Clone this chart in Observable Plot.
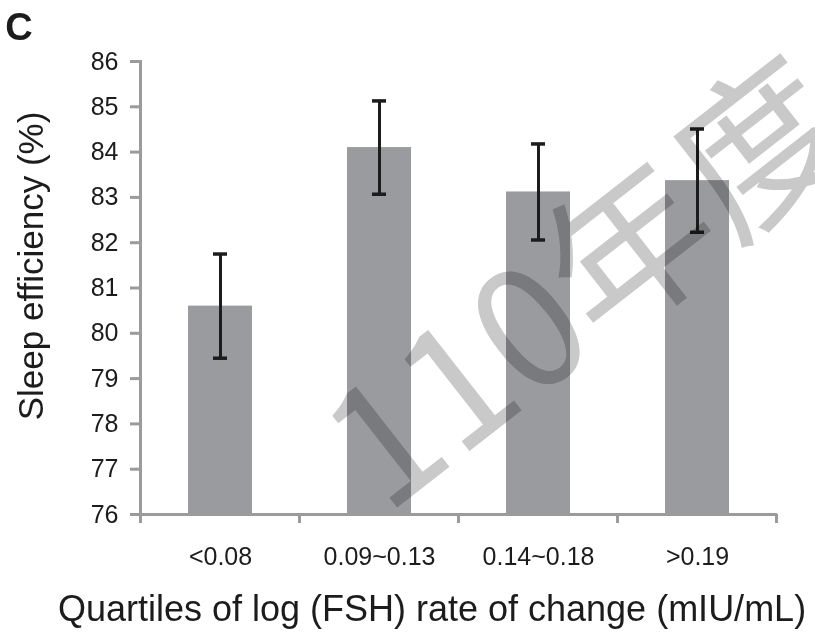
<!DOCTYPE html>
<html>
<head>
<meta charset="utf-8">
<script src="https://cdn.jsdelivr.net/npm/d3@7"></script>
<script src="https://cdn.jsdelivr.net/npm/@observablehq/plot@0.6"></script>
<style>
  html, body { margin: 0; padding: 0; background: #fff; }
  #chart { position: relative; width: 815px; height: 635px; overflow: hidden; }
</style>
</head>
<body>
<div id="chart"></div>
<script>
// ---- data ----
const categories = ["<0.08", "0.09~0.13", "0.14~0.18", ">0.19"];
const means = [80.6, 84.1, 83.12, 83.37];
const errors = [1.15, 1.03, 1.06, 1.14];
const yTicks = [76, 77, 78, 79, 80, 81, 82, 83, 84, 85, 86];
const panelLabel = "C";
const yLabel = "Sleep efficiency (%)";
const xLabel = "Quartiles of log (FSH) rate of change (mIU/mL)";
const watermark = "110年度";

const rows = categories.map((c, i) => ({cat: c, mean: means[i], lo: means[i] - errors[i], hi: means[i] + errors[i]}));

const FONT = "'Liberation Sans', Arial, Helvetica, sans-serif";
const AXIS = "#9b9b9b";
const TEXT = "#1c1c1c";
const BAR = "#9a9b9f";

const W = 815, H = 635, ML = 140, MR = 38, MT = 61, MB = 121;

const plot = Plot.plot({
  width: W,
  height: H,
  marginLeft: ML,
  marginRight: MR,
  marginTop: MT,
  marginBottom: MB,
  style: {fontFamily: FONT, background: "#fff", color: TEXT, overflow: "visible"},
  x: {domain: categories, paddingInner: 0.6, paddingOuter: 0.3, axis: null},
  y: {domain: [76, 86], axis: null},
  marks: [
    Plot.barY(rows, {x: "cat", y1: 76, y2: "mean", fill: BAR}),
    Plot.ruleX(rows, {x: "cat", y1: "lo", y2: "hi", stroke: TEXT, strokeWidth: 3}),
    Plot.tickY(rows, {x: "cat", y: "hi", stroke: TEXT, strokeWidth: 3.5, insetLeft: 25, insetRight: 25}),
    Plot.tickY(rows, {x: "cat", y: "lo", stroke: TEXT, strokeWidth: 3.5, insetLeft: 25, insetRight: 25}),
    Plot.axisY({ticks: yTicks, tickSize: 10, tickPadding: 12, stroke: AXIS, strokeWidth: 3, fontSize: 25, fill: TEXT, label: null, tickFormat: d => String(d)}),
    Plot.frame({anchor: "left", stroke: AXIS, strokeWidth: 3}),
    Plot.ruleY([76], {stroke: AXIS, strokeWidth: 3}),
    Plot.text(categories, {x: d => d, frameAnchor: "bottom", dy: 50, fontSize: 25, fill: TEXT}),
    Plot.text([xLabel], {frameAnchor: "bottom", dx: -27, dy: 106, fontSize: 36, fill: TEXT})
  ]
});

const svg = d3.select(plot);

// x-axis tick marks at band boundaries, positioned from Plot's own x scale
const xs = plot.scale("x");
const bw = xs.bandwidth;
const step = xs.step || bw / (1 - 0.6);
const bounds = categories.map(c => xs.apply(c) + bw / 2 - step / 2);
bounds.push(xs.apply(categories[categories.length - 1]) + bw / 2 + step / 2);
const yBase = plot.scale("y").apply(76);
svg.append("g")
  .attr("stroke", AXIS).attr("stroke-width", 3)
  .selectAll("line").data(bounds).join("line")
  .attr("x1", d => d).attr("x2", d => d)
  .attr("y1", yBase).attr("y2", yBase + 9);

// y-axis title
svg.append("text")
  .attr("transform", "translate(30,266) rotate(-90)")
  .attr("text-anchor", "middle")
  .attr("dominant-baseline", "central")
  .attr("font-family", FONT)
  .attr("font-size", 35)
  .attr("fill", TEXT)
  .text(yLabel);

// panel letter
svg.append("text")
  .attr("x", 19).attr("y", 40)
  .attr("font-family", FONT)
  .attr("font-size", 38)
  .attr("font-weight", "bold")
  .attr("fill", TEXT)
  .text(panelLabel);

// watermark
svg.append("text")
  .attr("transform", "translate(580,274) rotate(-38)")
  .attr("text-anchor", "middle")
  .attr("dominant-baseline", "central")
  .attr("font-family", "'Noto Sans CJK TC', 'Noto Sans CJK SC', sans-serif")
  .attr("font-size", 165)
  .attr("fill", "#c9c9c9")
  .style("mix-blend-mode", "multiply")
  .text(watermark);

document.getElementById("chart").appendChild(plot);
</script>
</body>
</html>
